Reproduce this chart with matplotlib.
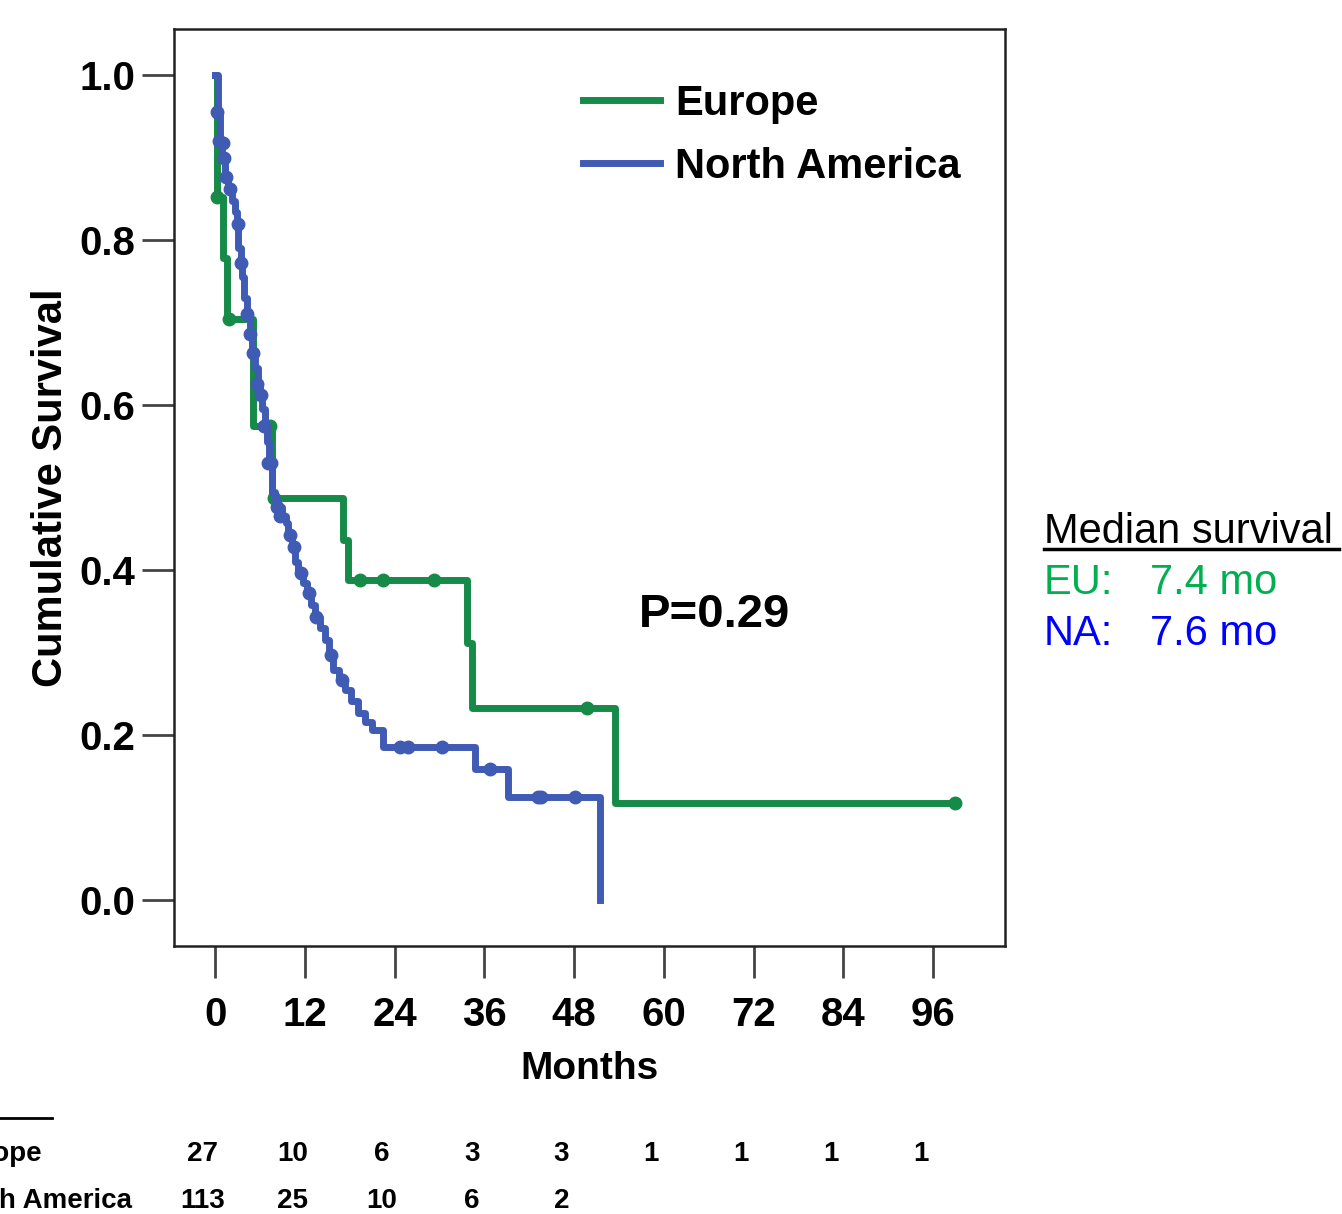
import matplotlib
matplotlib.use("Agg")
import matplotlib.pyplot as plt
from matplotlib.lines import Line2D

plt.rcParams['font.family'] = ['Liberation Sans', 'DejaVu Sans']

# Europe (n=27) step curve
eu_t = [0, 0.2, 1.0, 1.6, 5.0, 7.6, 17.1, 17.8, 33.7, 34.3, 53.5, 99.0]
eu_s = [1.0, 0.852, 0.778, 0.704, 0.574, 0.487, 0.436, 0.388, 0.311, 0.233, 0.117, 0.117]
eu_cens_t = [0.3, 1.8, 7.3, 7.9, 19.3, 22.5, 29.3, 49.7, 98.9]
eu_cens_s = [0.852, 0.704, 0.574, 0.487, 0.388, 0.388, 0.388, 0.233, 0.117]

# North America (n=113)
na_t = [0, 0.4, 0.6, 0.9, 1.3, 1.7, 2.2, 2.6, 2.9, 3.1, 3.4, 3.6, 3.9, 4.2, 4.6,
        4.9, 5.3, 5.7, 6.0, 6.3, 6.6, 6.9, 7.2, 7.6, 8.0, 8.4, 8.9, 9.4, 9.8,
        10.3, 10.7, 11.1, 11.7, 12.3, 12.8, 13.4, 14.0, 14.7, 15.2, 15.8, 16.6,
        17.4, 18.2, 19.1, 20.0, 21.0, 22.4, 34.8, 39.2, 51.5]
na_s = [1.0, 0.955, 0.92, 0.90, 0.876, 0.862, 0.848, 0.834, 0.82, 0.79, 0.772,
        0.755, 0.73, 0.71, 0.686, 0.663, 0.645, 0.625, 0.612, 0.595, 0.575,
        0.555, 0.53, 0.495, 0.485, 0.476, 0.466, 0.457, 0.442, 0.428, 0.41,
        0.396, 0.384, 0.372, 0.357, 0.343, 0.329, 0.315, 0.297, 0.279, 0.267,
        0.255, 0.241, 0.227, 0.216, 0.206, 0.185, 0.158, 0.125, 0.0]
na_cens_t = [0.3, 0.5, 1.0, 1.2, 1.5, 2.0, 3.0, 3.5, 4.3, 4.7, 5.0, 5.6, 6.1,
             6.5, 7.0, 7.4, 8.2, 8.7, 10.0, 10.5, 11.5, 12.5, 13.5, 15.5,
             17.0, 24.7, 25.8, 30.3, 36.8, 43.2, 43.6, 48.1]
na_cens_s = [0.955, 0.92, 0.918, 0.90, 0.876, 0.862, 0.82, 0.772, 0.71, 0.686,
             0.663, 0.625, 0.612, 0.575, 0.53, 0.53, 0.476, 0.466, 0.442, 0.428,
             0.396, 0.372, 0.343, 0.297, 0.267, 0.185, 0.185, 0.185, 0.158,
             0.125, 0.125, 0.125]

xticks = [0, 12, 24, 36, 48, 60, 72, 84, 96]
yticks = [0.0, 0.2, 0.4, 0.6, 0.8, 1.0]
risk_eu = ['27', '10', '6', '3', '3', '1', '1', '1', '1']
risk_na = ['113', '25', '10', '6', '2']

green = '#168a47'
blue = '#3f5bb3'

fig = plt.figure(figsize=(13.42, 12.14), dpi=100)
ax = fig.add_axes([0.1297, 0.2208, 0.6192, 0.7553])

ax.step(eu_t, eu_s, where='post', color=green, lw=5, zorder=2)
ax.plot(eu_cens_t, eu_cens_s, 'o', color=green, ms=9, zorder=2)
ax.step(na_t, na_s, where='post', color=blue, lw=5, zorder=3)
ax.plot(na_cens_t, na_cens_s, 'o', color=blue, ms=9, zorder=3)

ax.set_xlim(-5.5, 105.6)
ax.set_ylim(-0.056, 1.056)
ax.set_xticks(xticks)
ax.set_xticklabels([str(v) for v in xticks])
ax.set_yticks(yticks)
ax.set_yticklabels(['%.1f' % v for v in yticks])
ax.tick_params(axis='both', direction='out', length=23, width=2, color='#444444',
               labelsize=29)
ax.tick_params(axis='x', pad=13)
ax.tick_params(axis='y', pad=5)
for lab in ax.get_xticklabels() + ax.get_yticklabels():
    lab.set_fontweight('bold')
for sp in ax.spines.values():
    sp.set_linewidth(1.8)
    sp.set_color('#222222')

ax.set_xlabel('Months', fontsize=28, fontweight='bold', labelpad=12)
ax.set_ylabel('Cumulative Survival', fontsize=30, fontweight='bold', labelpad=6)

handles = [Line2D([], [], color=green, lw=5), Line2D([], [], color=blue, lw=5)]
ax.legend(handles, ['Europe', 'North America'], loc='upper left',
          bbox_to_anchor=(0.492, 0.94), frameon=False, borderpad=0,
          borderaxespad=0, handlelength=1.85, handletextpad=0.36,
          labelspacing=0.55, prop={'size': 30, 'weight': 'bold'})

ax.text(66.7, 0.345, 'P=0.29', fontsize=34, fontweight='bold', ha='center',
        va='center')

# median survival box on the right
fig.text(1044 / 1342, 1 - 532 / 1214, 'Median survival', fontsize=30,
         va='center', ha='left')
fig.add_artist(Line2D([1044 / 1342, 1339 / 1342], [1 - 549 / 1214, 1 - 549 / 1214],
                      color='black', lw=2.5))
fig.text(1044 / 1342, 1 - 583 / 1214, 'EU:', fontsize=30, color='#00b050',
         va='center')
fig.text(1150 / 1342, 1 - 583 / 1214, '7.4 mo', fontsize=30, color='#00b050',
         va='center')
fig.text(1044 / 1342, 1 - 634 / 1214, 'NA:', fontsize=30, color='#0000ff',
         va='center')
fig.text(1150 / 1342, 1 - 634 / 1214, '7.6 mo', fontsize=30, color='#0000ff',
         va='center')

# number at risk table (left edge is cut off in the source figure)
narrow = ['Liberation Sans Narrow', 'DejaVu Sans Condensed', 'Liberation Sans']
fig.add_artist(Line2D([0, 52 / 1342], [1 - 1118 / 1214, 1 - 1118 / 1214],
                      color='black', lw=2))
trans = matplotlib.transforms.blended_transform_factory(ax.transData, fig.transFigure)
fig.text(42 / 1342, 1 - 1154 / 1214, 'Europe', fontsize=20, fontweight='bold',
         family=narrow, va='center', ha='right')
fig.text(132 / 1342, 1 - 1201 / 1214, 'North America', fontsize=20,
         fontweight='bold', family=narrow, va='center', ha='right')
for x, v in zip(xticks, risk_eu):
    ax.text(x - 1.7, 1 - 1154 / 1214, v, transform=trans, fontsize=20,
            fontweight='bold', family=narrow, ha='center', va='center')
for x, v in zip(xticks, risk_na):
    ax.text(x - 1.7, 1 - 1201 / 1214, v, transform=trans, fontsize=20,
            fontweight='bold', family=narrow, ha='center', va='center')

fig.savefig('out.png', dpi=100)
